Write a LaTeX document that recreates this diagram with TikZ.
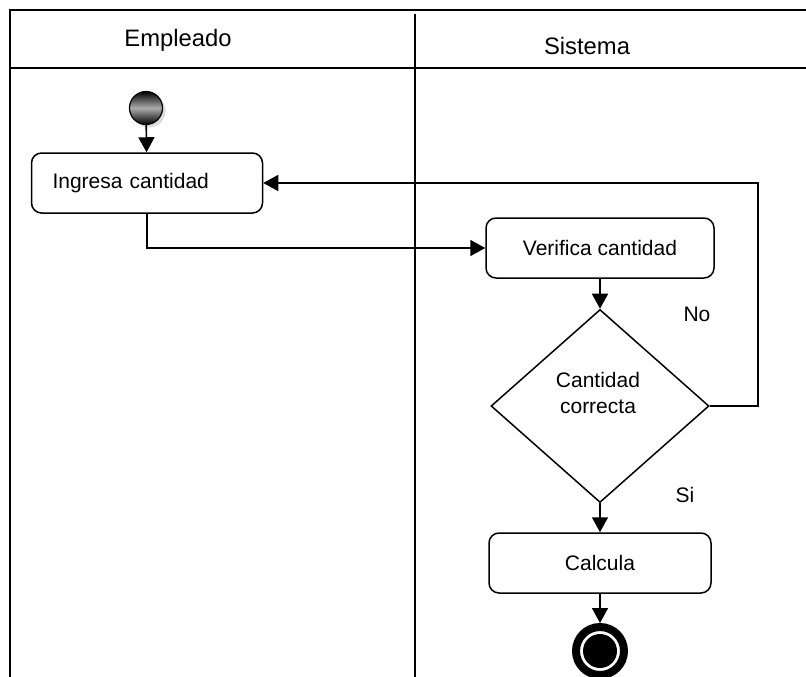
\documentclass[tikz,border=0pt]{standalone}
\usepackage{fontspec}
\setmainfont{Liberation Sans}
\usetikzlibrary{positioning, arrows.meta, shapes.geometric, shadows}

\begin{document}
\begin{tikzpicture}[x=1pt, y=-1pt,
    font=\fontsize{21}{25.5}\selectfont,
    act/.style={draw, rounded corners=10pt, line width=1.5pt, minimum height=60pt, align=center},
    flujo/.style={-{Triangle[length=15pt, width=16pt]}, line width=1.6pt},
    carril/.style={line width=2pt},
    cab/.style={font=\fontsize{23.8}{28}\selectfont}]
    \useasboundingbox (0,0) rectangle (806,677);
    % swimlanes
    \draw[carril] (10,677) -- (10,10) -- (806,10);
    \draw[carril] (10,68) -- (806,68);
    \draw[carril] (415,14) -- (415,677);
    \node[cab] (empleado) at (178,40) {Empleado};
    \node[cab] (sistema) at (587,46) {Sistema};
    % start
    \node[circle, draw, line width=1.2pt, minimum size=33pt, inner sep=0pt,
          top color=black, bottom color=black, middle color=gray!65,
          drop shadow={shadow xshift=3pt, shadow yshift=-3pt, fill=gray!55}] (inicio) at (146,108) {};
    % activities
    \node[act, text width=189pt, align=left, inner xsep=21pt] (ingresa) at (147,183) {Ingresa cantidad};
    \node[act, minimum width=228pt] (verifica) at (600,248) {Verifica cantidad};
    \node[diamond, draw, line width=1.5pt, minimum width=218pt, minimum height=193pt,
          inner sep=0pt] (decision) at (600,406) {};
    \node[align=center] (pregunta) at (598,393) {Cantidad\\correcta};
    \node[act, minimum width=222pt] (calcula) at (600,563) {Calcula};
    % end
    \node[circle, draw, line width=8pt, minimum size=48pt, inner sep=0pt] (fin) at (600,651) {};
    \fill (fin.center) circle[radius=17];
    % guards
    \node (no) at (697,314) {No};
    \node (si) at (685,495) {Si};
    % flows
    \foreach \a/\b in {inicio/ingresa, verifica/decision, decision/calcula, calcula/fin}
      \draw[flujo] (\a) -- (\b);
    \draw[flujo] (ingresa.south) |- (verifica.west);
    \draw[flujo] (decision.east) -- ++(48,0) |- (ingresa.east);
\end{tikzpicture}
\end{document}
